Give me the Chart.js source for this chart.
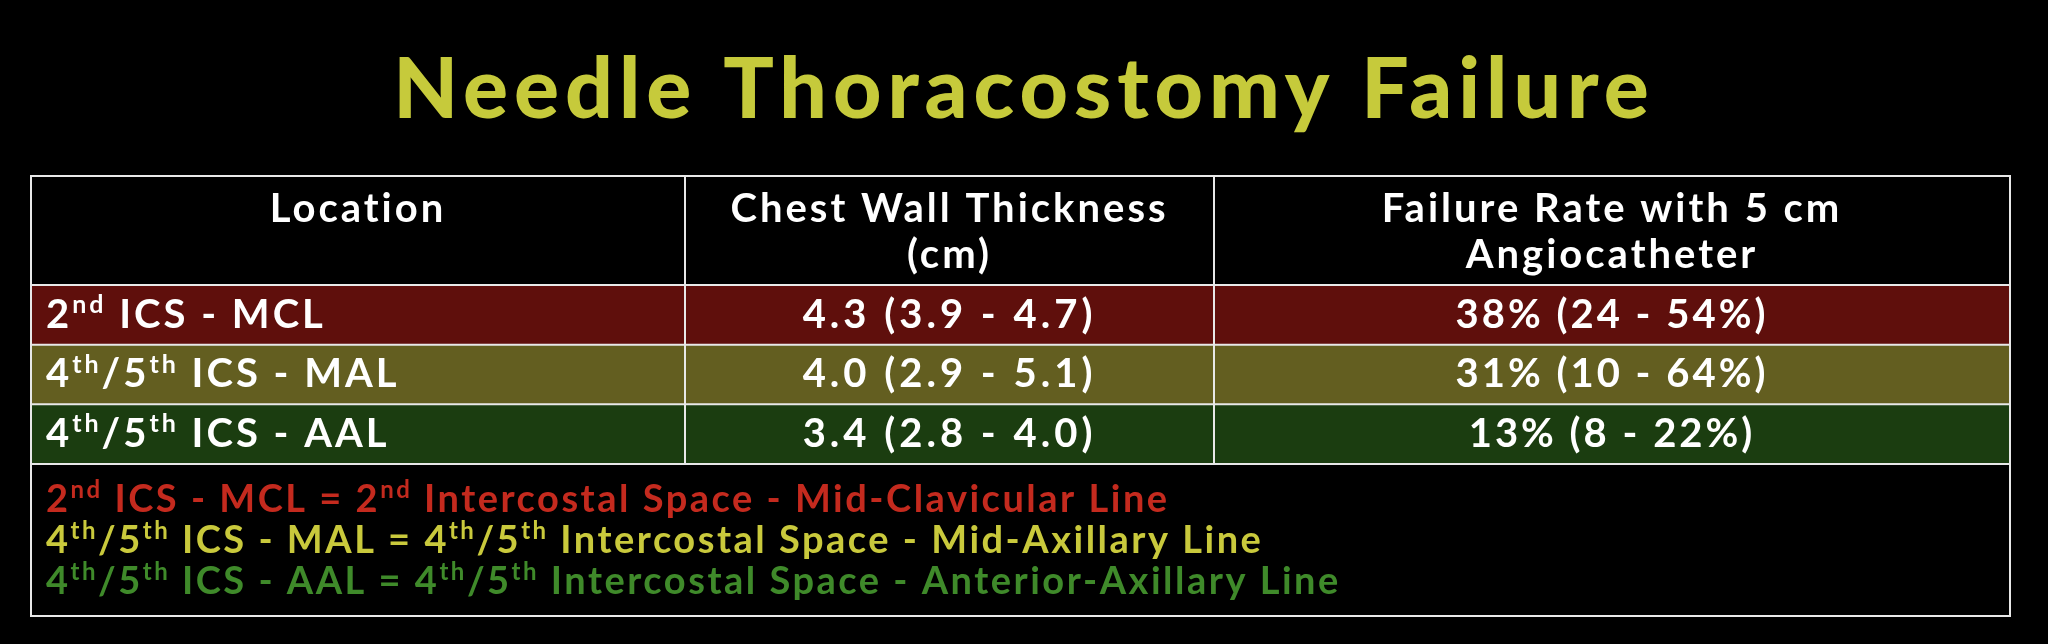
<!DOCTYPE html>
<html><head><meta charset="utf-8">
<script src="https://cdn.jsdelivr.net/npm/chart.js@4"></script>
<style>html,body{margin:0;padding:0;background:#000;overflow:hidden}</style>
</head><body>
<canvas id="c" width="2048" height="644"></canvas>
<script>
const title = "Needle Thoracostomy Failure";
const headers = [["Location"], ["Chest Wall Thickness", "(cm)"], ["Failure Rate with 5 cm", "Angiocatheter"]];
const locations = ["2^nd ICS - MCL", "4^th/5^th ICS - MAL", "4^th/5^th ICS - AAL"];
const thickness = ["4.3 (3.9 - 4.7)", "4.0 (2.9 - 5.1)", "3.4 (2.8 - 4.0)"];
const failure = ["38% (24 - 54%)", "31% (10 - 64%)", "13% (8 - 22%)"];
const rowColors = ["#5f0f0c", "#635e20", "#1b3d10"];
const footnotes = [
  "2^nd ICS - MCL = 2^nd Intercostal Space - Mid-Clavicular Line",
  "4^th/5^th ICS - MAL = 4^th/5^th Intercostal Space - Mid-Axillary Line",
  "4^th/5^th ICS - AAL = 4^th/5^th Intercostal Space - Anterior-Axillary Line"
];
const footColors = ["#c42a1e", "#c9c93c", "#3f8a2a"];
const colEdges = [0, 654, 1183, 1979];
const FONT = "Lato";

function segs(s){
  const out=[]; const re=/\^([a-z]+)/g; let last=0,m;
  while((m=re.exec(s))){ if(m.index>last) out.push([s.slice(last,m.index),false]); out.push([m[1],true]); last=re.lastIndex; }
  if(last<s.length) out.push([s.slice(last),false]); return out;
}
function drawRich(ctx,s,x,y,size,align,color,ls){
  const parts=segs(s); const big=`bold ${size}px ${FONT}`, small=`bold ${Math.round(size*0.62)}px ${FONT}`;
  ctx.letterSpacing=(ls||0)+'px';
  let w=0; parts.forEach(p=>{ctx.font=p[1]?small:big; w+=ctx.measureText(p[0]).width;});
  let cx = align==='center'? x-w/2 : x;
  ctx.fillStyle=color; ctx.textAlign='left'; ctx.textBaseline='middle';
  parts.forEach(p=>{ctx.font=p[1]?small:big; ctx.fillText(p[0],cx,p[1]?y-size*0.25:y); cx+=ctx.measureText(p[0]).width;});
  ctx.letterSpacing='0px';
}

const tablePlugin = {
  id:'table',
  beforeDraw(chart){
    const ctx=chart.ctx; ctx.save(); ctx.fillStyle='#000'; ctx.fillRect(0,0,chart.width,chart.height); ctx.restore();
  },
  afterDraw(chart){
    const ctx=chart.ctx, xs=chart.scales.x, ys=chart.scales.y, ca=chart.chartArea;
    const X=colEdges.map(v=>xs.getPixelForValue(v));
    const tableTop=176, tableBottom=616;
    ctx.save();
    ctx.letterSpacing='6px';
    ctx.font=`900 84px ${FONT}`; ctx.fillStyle='#c6ca3b'; ctx.textAlign='center'; ctx.textBaseline='middle';
    ctx.fillText(title, chart.width/2, 91);
    ctx.letterSpacing='3px';
    headers.forEach((h,i)=>{
      const cx=(X[i]+X[i+1])/2;
      h.forEach((line,j)=>{ ctx.font=`bold 40px ${FONT}`; ctx.fillStyle='#fff'; ctx.textAlign='center'; ctx.fillText(line,cx,209+j*46); });
    });
    ctx.letterSpacing='0px';
    locations.forEach((loc,i)=>{
      const cy=ys.getPixelForTick(i);
      drawRich(ctx,loc,X[0]+15,cy,40,'left','#fff',3);
      drawRich(ctx,thickness[i],(X[1]+X[2])/2,cy,40,'center','#fff',4);
      drawRich(ctx,failure[i],(X[2]+X[3])/2,cy,40,'center','#fff',3);
    });
    footnotes.forEach((f,i)=>drawRich(ctx,f,X[0]+15,500+i*41,38,'left',footColors[i],2.5));
    ctx.strokeStyle='#e8e8e8'; ctx.lineWidth=2;
    ctx.strokeRect(X[0],tableTop,X[3]-X[0],tableBottom-tableTop);
    ctx.beginPath();
    [ca.top, ys.getPixelForTick(0)+ (ys.getPixelForTick(1)-ys.getPixelForTick(0))/2, ys.getPixelForTick(1)+(ys.getPixelForTick(2)-ys.getPixelForTick(1))/2, ca.bottom].forEach(y=>{ctx.moveTo(X[0],y);ctx.lineTo(X[3],y);});
    [1,2].forEach(i=>{ctx.moveTo(X[i],tableTop);ctx.lineTo(X[i],ca.bottom);});
    ctx.stroke();
    ctx.restore();
  }
};

new Chart(document.getElementById('c'),{
  type:'bar',
  data:{labels:locations,datasets:[{data:locations.map(()=>[colEdges[0],colEdges[3]]),backgroundColor:rowColors,borderWidth:0,barPercentage:1,categoryPercentage:1}]},
  options:{indexAxis:'y',responsive:false,animation:false,devicePixelRatio:1,
    layout:{padding:{left:31,right:38,top:285,bottom:180}},
    plugins:{legend:{display:false},tooltip:{enabled:false},title:{display:false}},
    scales:{x:{type:'linear',min:colEdges[0],max:colEdges[3],display:false},y:{type:'category',display:false,offset:true}}},
  plugins:[tablePlugin]
});
</script>
</body></html>
